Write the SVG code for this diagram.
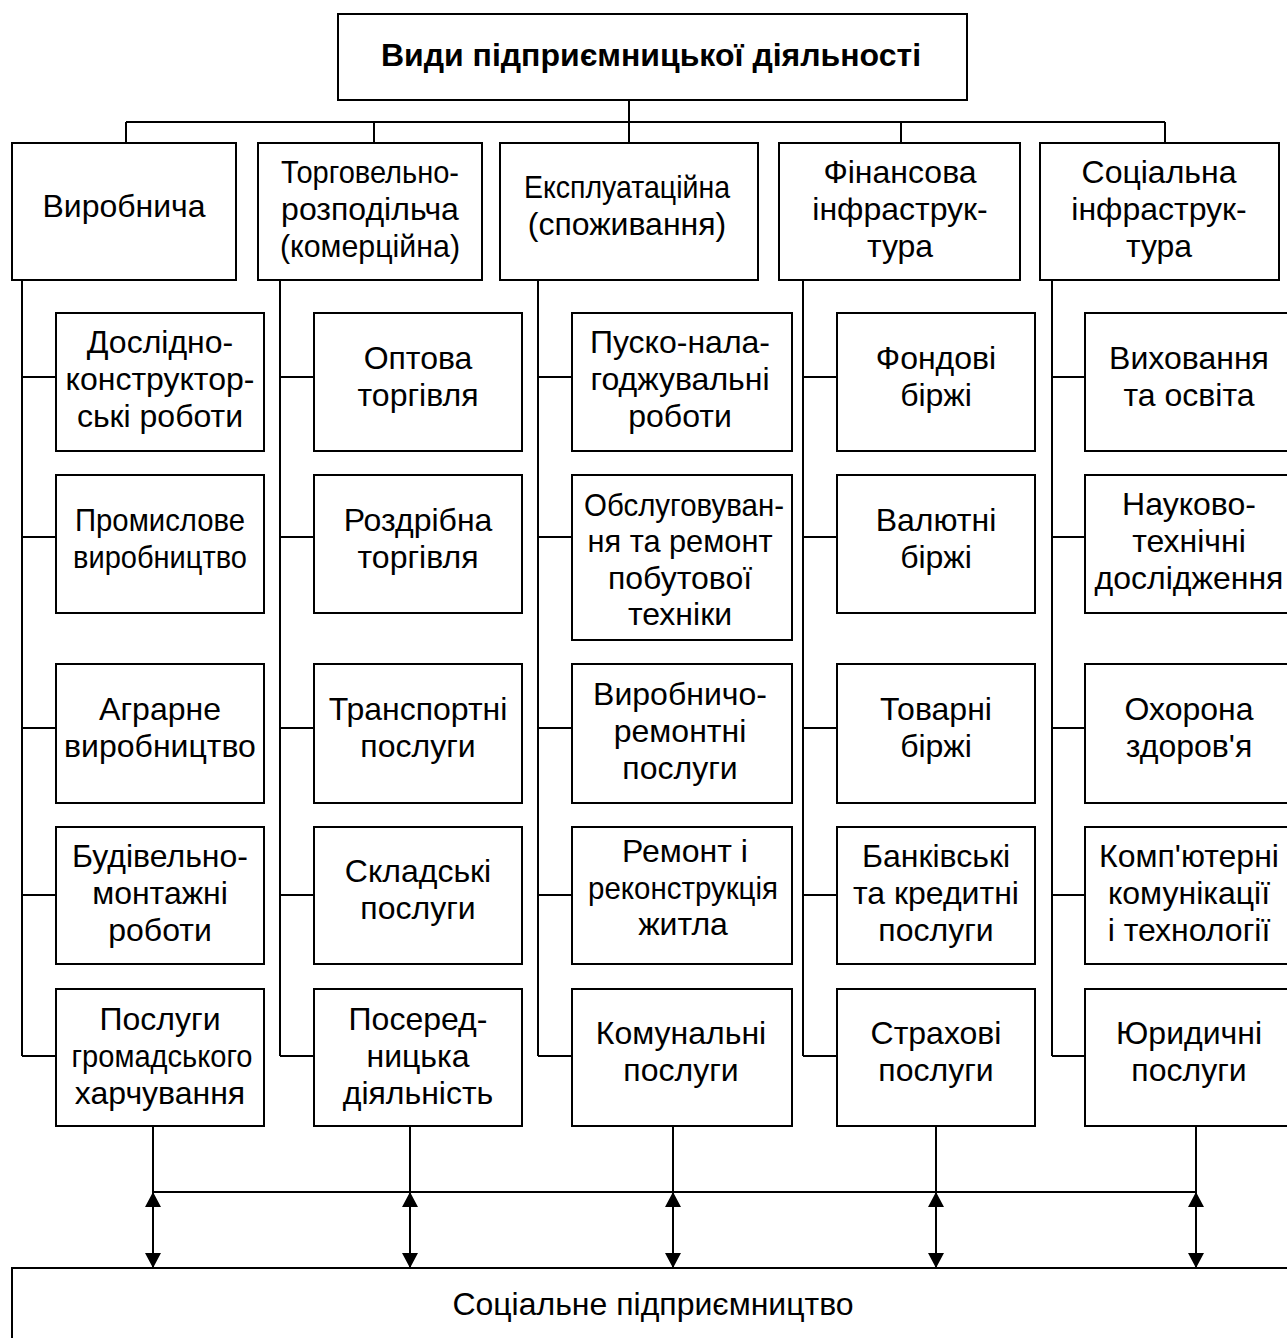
<svg xmlns="http://www.w3.org/2000/svg" width="1287" height="1338" viewBox="0 0 1287 1338">
<style>
.box{fill:#fff;stroke:#000;stroke-width:2}
.ln{fill:none;stroke:#000;stroke-width:2}
text{font-family:"Liberation Sans",Arial,sans-serif;font-size:32px;text-anchor:middle;fill:#000}
.b{font-weight:bold}
</style>
<defs>
<marker id="ah" viewBox="0 0 15 16" markerWidth="15" markerHeight="16" refX="15" refY="8" markerUnits="userSpaceOnUse" orient="auto-start-reverse">
<path d="M0,0 L15,8 L0,16 z" fill="#000"/>
</marker>
</defs>
<g id="connectors">
<path class="ln" d="M629,100 V122 M126,122 H1165 M126,122 V143 M374,122 V143 M629,122 V143 M901,122 V143 M1165,122 V143"/>
<path class="ln" d="M22,280 V1056 M22,377 H56 M22,537 H56 M22,728 H56 M22,895 H56 M22,1056 H56"/>
<path class="ln" d="M280,280 V1056 M280,377 H314 M280,537 H314 M280,728 H314 M280,895 H314 M280,1056 H314"/>
<path class="ln" d="M538,280 V1056 M538,377 H572 M538,537 H572 M538,728 H572 M538,895 H572 M538,1056 H572"/>
<path class="ln" d="M803,280 V1056 M803,377 H837 M803,537 H837 M803,728 H837 M803,895 H837 M803,1056 H837"/>
<path class="ln" d="M1052,280 V1056 M1052,377 H1085 M1052,537 H1085 M1052,728 H1085 M1052,895 H1085 M1052,1056 H1085"/>
<path class="ln" d="M153,1126 V1192 M410,1126 V1192 M673,1126 V1192 M936,1126 V1192 M1196,1126 V1192 M153,1192 H1196"/>
<line class="ln" x1="153" y1="1192" x2="153" y2="1268" marker-start="url(#ah)" marker-end="url(#ah)"/>
<line class="ln" x1="410" y1="1192" x2="410" y2="1268" marker-start="url(#ah)" marker-end="url(#ah)"/>
<line class="ln" x1="673" y1="1192" x2="673" y2="1268" marker-start="url(#ah)" marker-end="url(#ah)"/>
<line class="ln" x1="936" y1="1192" x2="936" y2="1268" marker-start="url(#ah)" marker-end="url(#ah)"/>
<line class="ln" x1="1196" y1="1192" x2="1196" y2="1268" marker-start="url(#ah)" marker-end="url(#ah)"/>
</g>
<g id="root"><rect class="box" x="338" y="14" width="629" height="86"/><text class="b" x="651" y="66">Види підприємницької діяльності</text></g>
<g id="h1"><rect class="box" x="12" y="143" width="224" height="137"/><text x="124" y="216.5">Виробнича</text></g>
<g id="h2"><rect class="box" x="258" y="143" width="224" height="137"/><text x="370" y="182.5" textLength="178" lengthAdjust="spacingAndGlyphs">Торговельно-</text><text x="370" y="219.5">розподільча</text><text x="370" y="256.5" textLength="180" lengthAdjust="spacingAndGlyphs">(комерційна)</text></g>
<g id="h3"><rect class="box" x="500" y="143" width="258" height="137"/><text x="627" y="198" textLength="206" lengthAdjust="spacingAndGlyphs">Експлуатаційна</text><text x="627" y="235">(споживання)</text></g>
<g id="h4"><rect class="box" x="779" y="143" width="241" height="137"/><text x="900" y="182.5">Фінансова</text><text x="900" y="219.5">інфраструк-</text><text x="900" y="256.5">тура</text></g>
<g id="h5"><rect class="box" x="1040" y="143" width="239" height="137"/><text x="1159" y="182.5">Соціальна</text><text x="1159" y="219.5">інфраструк-</text><text x="1159" y="256.5">тура</text></g>

<g id="c1r1"><rect class="box" x="56" y="313" width="208" height="138"/><text x="160" y="353">Дослідно-</text><text x="160" y="390">конструктор-</text><text x="160" y="427">ські роботи</text></g>
<g id="c1r2"><rect class="box" x="56" y="475" width="208" height="138"/><text x="160" y="530.5" textLength="170" lengthAdjust="spacingAndGlyphs">Промислове</text><text x="160" y="567.5" textLength="174" lengthAdjust="spacingAndGlyphs">виробництво</text></g>
<g id="c1r3"><rect class="box" x="56" y="664" width="208" height="139"/><text x="160" y="720">Аграрне</text><text x="160" y="757">виробництво</text></g>
<g id="c1r4"><rect class="box" x="56" y="827" width="208" height="137"/><text x="160" y="866.5">Будівельно-</text><text x="160" y="903.5">монтажні</text><text x="160" y="940.5">роботи</text></g>
<g id="c1r5"><rect class="box" x="56" y="989" width="208" height="137"/><text x="160" y="1029.5">Послуги</text><text x="162" y="1066.5" textLength="181" lengthAdjust="spacingAndGlyphs">громадського</text><text x="160" y="1103.5">харчування</text></g>

<g id="c2r1"><rect class="box" x="314" y="313" width="208" height="138"/><text x="418" y="368.5">Оптова</text><text x="418" y="405.5">торгівля</text></g>
<g id="c2r2"><rect class="box" x="314" y="475" width="208" height="138"/><text x="418" y="530.5">Роздрібна</text><text x="418" y="567.5">торгівля</text></g>
<g id="c2r3"><rect class="box" x="314" y="664" width="208" height="139"/><text x="418" y="720">Транспортні</text><text x="418" y="757">послуги</text></g>
<g id="c2r4"><rect class="box" x="314" y="827" width="208" height="137"/><text x="418" y="882">Складські</text><text x="418" y="919">послуги</text></g>
<g id="c2r5"><rect class="box" x="314" y="989" width="208" height="137"/><text x="418" y="1029.5">Посеред-</text><text x="418" y="1066.5">ницька</text><text x="418" y="1103.5">діяльність</text></g>

<g id="c3r1"><rect class="box" x="572" y="313" width="220" height="138"/><text x="680" y="353">Пуско-нала-</text><text x="680" y="390">годжувальні</text><text x="680" y="427">роботи</text></g>
<g id="c3r2"><rect class="box" x="572" y="475" width="220" height="165"/><text x="684" y="515.5" textLength="200" lengthAdjust="spacingAndGlyphs">Обслуговуван-</text><text x="680" y="552" textLength="185" lengthAdjust="spacingAndGlyphs">ня та ремонт</text><text x="680" y="588.5">побутової</text><text x="680" y="625">техніки</text></g>
<g id="c3r3"><rect class="box" x="572" y="664" width="220" height="139"/><text x="680" y="704.5">Виробничо-</text><text x="680" y="741.5">ремонтні</text><text x="680" y="778.5">послуги</text></g>
<g id="c3r4"><rect class="box" x="572" y="827" width="220" height="137"/><text x="685" y="862">Ремонт і</text><text x="683" y="899" textLength="190" lengthAdjust="spacingAndGlyphs">реконструкція</text><text x="683" y="935">житла</text></g>
<g id="c3r5"><rect class="box" x="572" y="989" width="220" height="137"/><text x="681" y="1044">Комунальні</text><text x="681" y="1081">послуги</text></g>

<g id="c4r1"><rect class="box" x="837" y="313" width="198" height="138"/><text x="936" y="368.5">Фондові</text><text x="936" y="405.5">біржі</text></g>
<g id="c4r2"><rect class="box" x="837" y="475" width="198" height="138"/><text x="936" y="530.5">Валютні</text><text x="936" y="567.5">біржі</text></g>
<g id="c4r3"><rect class="box" x="837" y="664" width="198" height="139"/><text x="936" y="720">Товарні</text><text x="936" y="757">біржі</text></g>
<g id="c4r4"><rect class="box" x="837" y="827" width="198" height="137"/><text x="936" y="866.5">Банківські</text><text x="936" y="903.5">та кредитні</text><text x="936" y="940.5">послуги</text></g>
<g id="c4r5"><rect class="box" x="837" y="989" width="198" height="137"/><text x="936" y="1044">Страхові</text><text x="936" y="1081">послуги</text></g>

<g id="c5r1"><rect class="box" x="1085" y="313" width="210" height="138"/><text x="1189" y="368.5">Виховання</text><text x="1189" y="405.5">та освіта</text></g>
<g id="c5r2"><rect class="box" x="1085" y="475" width="210" height="138"/><text x="1189" y="515">Науково-</text><text x="1189" y="552">технічні</text><text x="1189" y="589">дослідження</text></g>
<g id="c5r3"><rect class="box" x="1085" y="664" width="210" height="139"/><text x="1189" y="720">Охорона</text><text x="1189" y="757">здоров'я</text></g>
<g id="c5r4"><rect class="box" x="1085" y="827" width="210" height="137"/><text x="1189" y="866.5">Комп'ютерні</text><text x="1189" y="903.5">комунікації</text><text x="1189" y="940.5">і технології</text></g>
<g id="c5r5"><rect class="box" x="1085" y="989" width="210" height="137"/><text x="1189" y="1044">Юридичні</text><text x="1189" y="1081">послуги</text></g>

<g id="bottom"><rect class="box" x="12" y="1268" width="1290" height="100"/><text x="653" y="1315">Соціальне підприємництво</text></g>
</svg>
